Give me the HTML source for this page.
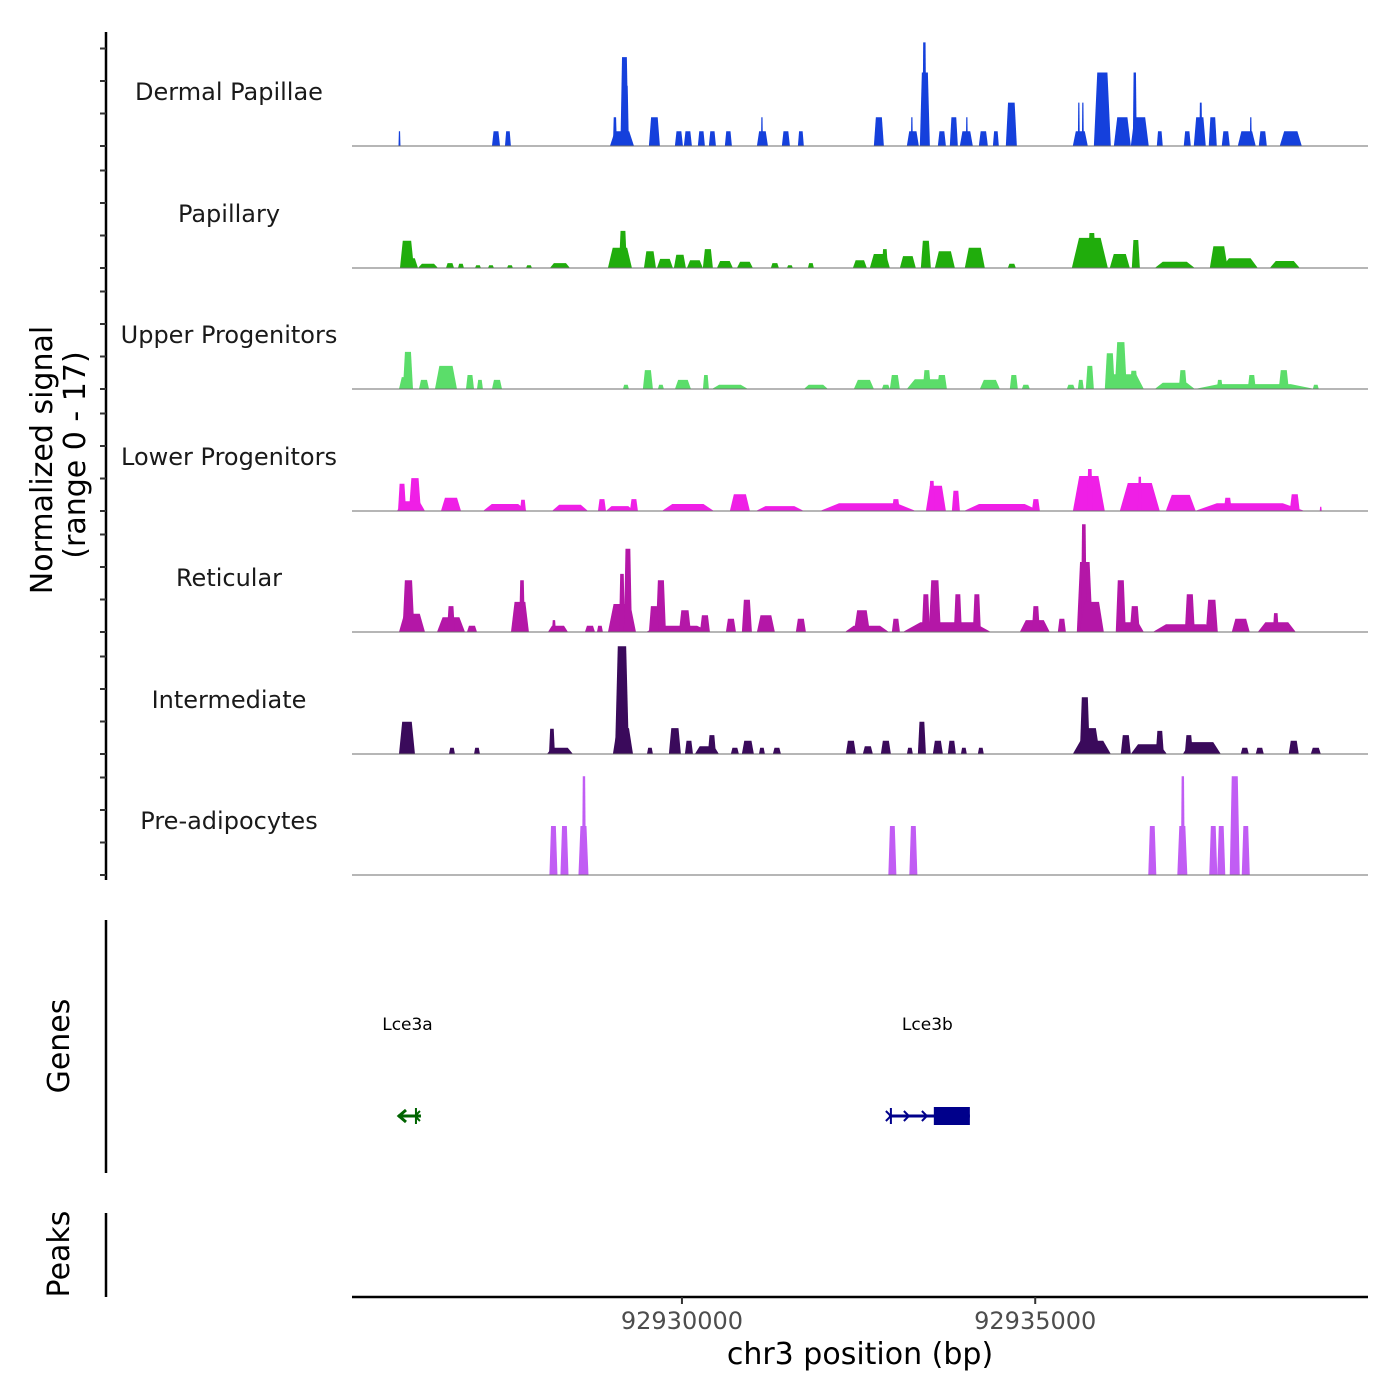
<!DOCTYPE html>
<html><head><meta charset="utf-8">
<style>
html,body{margin:0;padding:0;background:#fff;}
svg{display:block;font-family:"DejaVu Sans","Liberation Sans",sans-serif;}
</style></head>
<body>
<svg id="chart" width="1400" height="1400" viewBox="0 0 1400 1400" xmlns="http://www.w3.org/2000/svg">
  <g id="tracks"></g>
  <g id="yaxis"></g>
  <g id="genes"></g>
  <g id="xaxis"></g>
  <text transform="translate(52,460) rotate(-90)" text-anchor="middle" font-size="30" fill="#000">Normalized signal</text>
  <text transform="translate(85,455) rotate(-90)" text-anchor="middle" font-size="30" fill="#000">(range 0 - 17)</text>
  <text transform="translate(69,1046) rotate(-90)" text-anchor="middle" font-size="30" fill="#000">Genes</text>
  <text transform="translate(69,1254) rotate(-90)" text-anchor="middle" font-size="30" fill="#000">Peaks</text>
  <text x="860" y="1364" text-anchor="middle" font-size="30" fill="#000">chr3 position (bp)</text>
</svg>
<script>
// ---- data ----
const regionStart = 92925330, regionEnd = 92939710;
const xTicks = [92930000, 92935000];
const xTickLabels = ["92930000", "92935000"];
const trackNames = ["Dermal Papillae","Papillary","Upper Progenitors","Lower Progenitors","Reticular","Intermediate","Pre-adipocytes"];
const trackColors = ["#1540dc","#20ad0c","#5bdd6a","#ef1fe6","#b417a7","#3a0a5b","#c15df4"];
const yTicks = [0,5,10,15];

const dpPos = [92926002,92927368,92927537,92929151,92929051,92929207,92929186,92929610,92929957,92930084,92930275,92930431,92930657,92931139,92931132,92931471,92931683,92932787,92933268,92933254,92933438,92933431,92933679,92933848,92934025,92934032,92934266,92934443,92934662,92935638,92935617,92935674,92935950,92936233,92936480,92936409,92936763,92937152,92937329,92937343,92937513,92937697,92937994,92938051,92938221,92938617];
const dpWid = [14,57,42,170,28,42,57,78,57,57,50,50,50,78,14,57,42,71,85,14,71,28,57,57,92,14,64,42,78,106,14,14,120,120,127,28,42,50,85,21,57,57,127,14,57,156];
const dpVal = [2.1,2.1,2.1,2.1,4.1,8.6,12.7,4.1,2.1,2.1,2.1,2.1,2.1,2.1,4.1,2.1,2.1,4.1,2.1,4.1,10.5,14.8,2.1,4.1,2.1,4.1,2.1,2.1,6.2,2.1,6.2,6.2,10.5,4.1,4.1,10.5,2.1,2.1,4.1,6.2,4.1,2.1,2.1,4.1,2.1,2.1];

const paPos = [92926108,92926151,92926405,92926717,92926872,92927113,92927297,92927566,92927835,92928273,92929122,92929165,92929547,92929759,92929971,92930183,92930367,92930608,92930891,92931315,92931528,92931825,92932518,92932801,92932872,92933197,92933452,92933721,92934145,92934669,92935773,92935801,92936197,92936424,92936975,92937598,92937895,92938532];
const paWid = [99,113,142,57,42,42,42,42,42,142,170,57,85,113,85,113,71,113,113,57,42,42,99,142,42,113,71,142,142,57,255,57,142,57,283,127,255,212];
const paVal = [3.9,1.4,0.6,0.7,0.6,0.4,0.4,0.4,0.4,0.7,2.9,5.3,2.4,1.3,1.9,1.1,2.7,1.0,0.9,0.7,0.4,0.7,1.1,2.0,2.7,1.7,3.9,2.4,2.9,0.6,4.3,5.0,2.0,4.0,0.9,3.1,1.4,1.0];

const upPos = [92926122,92926094,92926349,92926660,92927000,92927141,92927382,92929207,92929518,92929702,92930014,92930339,92930679,92931896,92932575,92932886,92933013,92933466,92933466,92933679,92934358,92934697,92934867,92935504,92935645,92935773,92936211,92936056,92936268,92936395,92936975,92937089,92938107,92937612,92938065,92938518,92938971];
const upWid = [71,99,71,156,57,42,71,42,71,42,113,42,255,170,142,57,71,283,57,71,142,57,57,57,42,57,85,71,269,57,283,57,849,42,57,71,42];
const upVal = [5.3,1.7,1.3,3.3,2.0,1.3,1.3,0.6,2.7,0.6,1.3,2.0,0.6,0.6,1.3,0.6,2.0,1.4,2.7,2.0,1.3,2.0,0.6,0.6,1.3,3.3,6.7,5.1,2.1,2.6,0.9,2.7,0.7,1.3,2.0,2.7,0.6];

const lpPos = [92926038,92926221,92926165,92926731,92927495,92927750,92928415,92928868,92929320,92929122,92930084,92930820,92931386,92932631,92933028,92933594,92933537,92933877,92934528,92935009,92935759,92935773,92936480,92936480,92937060,92938037,92937725,92938673,92939041];
const lpWid = [57,85,198,142,311,42,255,57,57,198,368,142,340,679,57,142,42,57,538,57,226,42,283,28,212,778,57,71,14];
const lpVal = [3.9,4.7,1.4,1.9,1.0,1.6,0.9,1.7,1.7,0.7,1.0,2.4,0.7,1.1,1.7,3.6,4.3,2.9,1.0,1.7,5.0,6.0,4.0,4.9,2.3,1.1,1.9,2.4,0.6];

const rePos = [92926129,92926179,92926731,92926731,92927028,92927707,92927736,92928245,92928188,92928698,92928839,92929151,92929151,92929235,92929943,92929702,92929603,92930042,92930325,92930693,92930919,92931188,92931683,92932617,92932547,92933028,92933749,92933579,92933452,92933905,92934174,92934994,92935009,92935377,92935702,92935688,92935801,92936339,92936211,92936409,92937131,92937188,92937499,92937909,92938419,92938405];
const reWid = [85,184,198,57,71,127,42,142,28,71,42,198,42,57,453,71,71,85,71,71,71,127,71,311,113,57,623,85,57,57,57,212,57,57,113,42,170,198,71,71,467,71,85,127,269,42];
const reVal = [7.4,2.6,2.1,3.7,0.9,4.3,7.4,0.9,1.7,0.9,0.9,4.0,8.3,11.9,0.9,7.4,3.7,3.1,2.4,1.9,4.6,2.4,1.9,0.9,3.1,1.9,1.4,7.4,5.4,5.4,5.4,1.7,3.7,1.9,10.0,15.4,4.3,1.4,7.4,3.7,1.1,5.4,4.6,1.9,1.4,2.7];

const inPos = [92926108,92926745,92927099,92928273,92928160,92929165,92929151,92929547,92929900,92930099,92930353,92930424,92930749,92930933,92931132,92931344,92932391,92932631,92932886,92933226,92933396,92933622,92933820,92933990,92934230,92935801,92935702,92935773,92936282,92936608,92936763,92937358,92937174,92937966,92938178,92938659,92938971];
const inWid = [113,42,42,184,42,142,99,42,85,57,170,57,57,85,42,57,71,71,71,42,57,71,57,42,42,269,71,142,71,255,57,269,57,57,57,71,71];
const inVal = [4.6,0.9,0.9,0.9,3.6,3.7,15.4,0.9,3.7,1.9,1.1,2.7,0.9,1.9,0.9,0.9,1.9,1.1,1.9,0.9,4.6,1.9,1.9,0.9,0.9,1.9,8.1,3.7,2.7,1.4,3.3,1.7,2.7,0.9,0.9,1.9,0.9];

const adPos = [92928181,92928337,92928606,92928613,92932978,92933275,92936657,92937082,92937089,92937520,92937633,92937824,92937980];
const adWid = [57,57,71,28,57,57,57,71,28,57,57,71,57];
const adVal = [7.0,7.0,7.0,14.1,7.0,7.0,7.0,7.0,14.1,7.0,7.0,14.1,7.0];

const geneNames = ["Lce3a","Lce3b"];
const geneStarts = [92925981,92932929];
const geneEnds = [92926306,92934075];
const geneStrands = ["-","+"];
const geneCdsStarts = [null,92933565];
const geneColors = ["#006400","#00008b"];

// ---- layout ----
const NS = "http://www.w3.org/2000/svg";
const plotLeft = 352, plotRight = 1368;
const baselines = [146,268,389,511,632,754,875];
const pxPerUnit = 7;
function xScale(bp){ return plotLeft + (bp - regionStart) / (regionEnd - regionStart) * (plotRight - plotLeft); }
function mk(tag, attrs, parent){ const e = document.createElementNS(NS, tag); for (const k in attrs) e.setAttribute(k, attrs[k]); parent.appendChild(e); return e; }

const tracksG = document.getElementById('tracks');
const allPos = [dpPos,paPos,upPos,lpPos,rePos,inPos,adPos];
const allWid = [dpWid,paWid,upWid,lpWid,reWid,inWid,adWid];
const allVal = [dpVal,paVal,upVal,lpVal,reVal,inVal,adVal];

trackNames.forEach((name, t) => {
  const base = baselines[t];
  const g = mk('g', {}, tracksG);
  
  
  const lbl = mk('text', {x: 229, y: base - 46, 'text-anchor': 'middle', 'font-size': 24, fill: '#1a1a1a'}, g);
  lbl.textContent = name;
  
  
  const pos = allPos[t], wid = allWid[t], val = allVal[t];
  for (let i = 0; i < pos.length; i++) {
    const x0 = xScale(pos[i] - wid[i]), x1 = xScale(pos[i] + wid[i]);
    const xa = xScale(pos[i] - wid[i] * 0.6), xb = xScale(pos[i] + wid[i] * 0.6);
    const top = base - val[i] * pxPerUnit;
    const p = mk('polygon', {points: `${x0},${base} ${xa},${top} ${xb},${top} ${x1},${base}`, fill: trackColors[t]}, g);
    
    
  }
  const bl = mk('line', {x1: plotLeft, x2: plotRight, y1: base, y2: base, stroke: '#6e6e6e', 'stroke-width': 1}, g);
  
  
});

// y axis
const yG = document.getElementById('yaxis');
const yl = mk('line', {x1: 106, x2: 106, y1: 32, y2: 880, stroke: '#000', 'stroke-width': 2.5}, yG);


baselines.forEach(b => {
  yTicks.forEach(v => {
    const y = b - v * 6.5;
    const tk = mk('line', {x1: 100, x2: 106, y1: y, y2: y, stroke: '#333', 'stroke-width': 2}, yG);
    
    
  });
});
const gl = mk('line', {x1: 106, x2: 106, y1: 920, y2: 1173, stroke: '#000', 'stroke-width': 2.5}, yG);


const pl = mk('line', {x1: 106, x2: 106, y1: 1213, y2: 1297, stroke: '#000', 'stroke-width': 2.5}, yG);



// genes
const gG = document.getElementById('genes');
const gy = 1116;
geneNames.forEach((n, i) => {
  const g = mk('g', {}, gG);
  
  
  const c = geneColors[i];
  const xs = xScale(geneStarts[i]), xe = xScale(geneEnds[i]);
  const t = mk('text', {x: (xs + xe) / 2 - 2, y: 1030, 'text-anchor': 'middle', 'font-size': 17, fill: '#000'}, g);
  t.textContent = n;
  
  
  mk('line', {x1: xs, x2: xe, y1: gy, y2: gy, stroke: c, 'stroke-width': 3}, g);
  if (geneStrands[i] === '-') {
    mk('polyline', {points: `${xs+8},${gy-6} ${xs+1},${gy} ${xs+8},${gy+6}`, fill: 'none', stroke: c, 'stroke-width': 3}, g);
    mk('line', {x1: xe - 5, x2: xe - 5, y1: gy - 8, y2: gy + 8, stroke: c, 'stroke-width': 2}, g);
    mk('polyline', {points: `${xe-1},${gy-5} ${xe-6},${gy} ${xe-1},${gy+5}`, fill: 'none', stroke: c, 'stroke-width': 2}, g);
  } else {
    mk('line', {x1: xs + 2, x2: xs + 2, y1: gy - 8, y2: gy + 8, stroke: c, 'stroke-width': 2}, g);
    const cs = xScale(geneCdsStarts[i]);
    [xs + 20, xs + 38].forEach(ax => {
      mk('polyline', {points: `${ax-5},${gy-5} ${ax},${gy} ${ax-5},${gy+5}`, fill: 'none', stroke: c, 'stroke-width': 2}, g);
    });
    mk('polyline', {points: `${xs-3},${gy-5} ${xs+2},${gy} ${xs-3},${gy+5}`, fill: 'none', stroke: c, 'stroke-width': 2}, g);
    const r = mk('rect', {x: cs, y: gy - 9, width: xe - cs, height: 18, fill: c}, g);
    
    
  }
});

// x axis
const xG = document.getElementById('xaxis');
const xl = mk('line', {x1: plotLeft, x2: plotRight, y1: 1297, y2: 1297, stroke: '#000', 'stroke-width': 2.5}, xG);


xTicks.forEach((v, i) => {
  const x = xScale(v);
  const tk = mk('line', {x1: x, x2: x, y1: 1297, y2: 1304, stroke: '#333', 'stroke-width': 2}, xG);
  
  
  const tl = mk('text', {x: x, y: 1329, 'text-anchor': 'middle', 'font-size': 24, fill: '#4d4d4d'}, xG);
  tl.textContent = xTickLabels[i];
  
  
});
</script>
</body></html>
